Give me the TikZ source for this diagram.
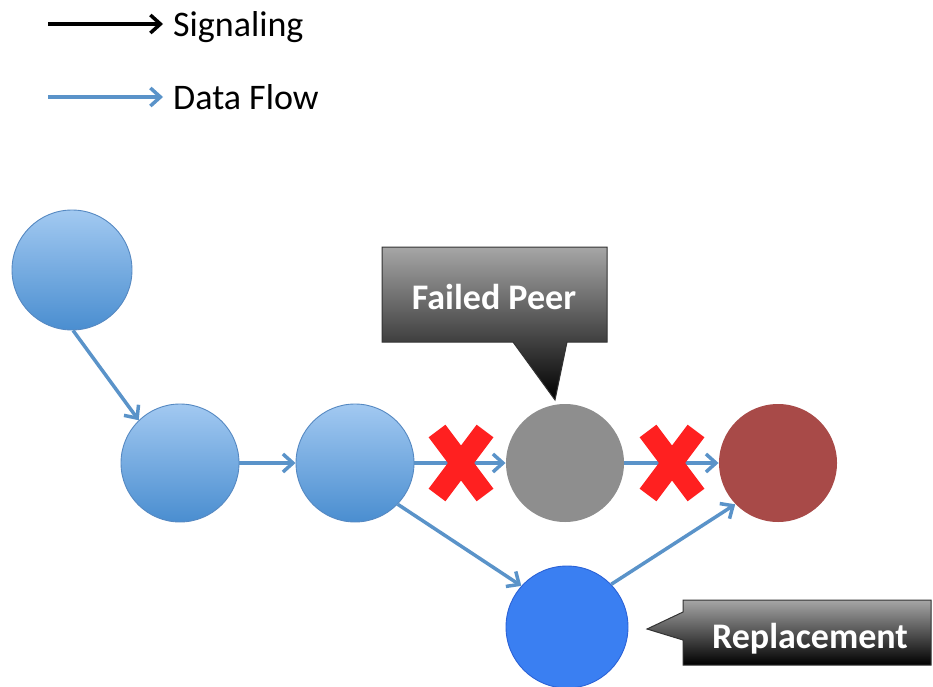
\documentclass[tikz,border=0pt]{standalone}
\usepackage{fontspec}
\setmainfont{Carlito}
\usetikzlibrary{arrows.meta}

\definecolor{flow}{HTML}{5A93C9}
\definecolor{peerTop}{HTML}{A2C9F1}
\definecolor{peerBot}{HTML}{4A8ED0}
\definecolor{peerEdge}{HTML}{5689C2}
\definecolor{failGray}{HTML}{8E8E8E}
\definecolor{sinkRed}{HTML}{A84A48}
\definecolor{newBlue}{HTML}{3A7FF2}
\definecolor{newEdge}{HTML}{2B62D6}
\definecolor{crossRed}{HTML}{FF2020}
\definecolor{calloutTop}{HTML}{A6A6A6}
\definecolor{calloutMid}{HTML}{555555}
\definecolor{calloutEdge}{HTML}{333333}

\tikzset{
  peer/.style={circle, inner sep=0pt, minimum size=118pt, line width=0.9pt},
  normalpeer/.style={peer, draw=peerEdge, top color=peerTop, bottom color=peerBot},
  flowline/.style={draw=flow, line width=3.5pt, -{Straight Barb[length=10pt,width=18pt]}},
  signalline/.style={draw=black, line width=3.5pt, -{Straight Barb[length=10pt,width=18pt]}},
  crossarm/.style={draw=crossRed, line width=21pt, line cap=butt},
  callout/.style={draw=calloutEdge, line width=1pt, line join=miter},
  callouttext/.style={text=white, font=\fontsize{36}{40}\selectfont\bfseries, inner sep=0pt},
  legendtext/.style={font=\fontsize{36}{40}\selectfont, inner sep=0pt, anchor=base west}
}

\begin{document}
\begin{tikzpicture}[x=1pt, y=-1pt]
\useasboundingbox (0,0) rectangle (933,687);

% legend
\coordinate (s1) at (48,24);
\coordinate (s2) at (163,24);
\coordinate (d1) at (48,97);
\coordinate (d2) at (163,97);
\draw[signalline] (s1) -- (s2);
\draw[flowline] (d1) -- (d2);
\node[legendtext] (sig) at (173,37) {Signaling};
\node[legendtext] (dat) at (173,110) {Data Flow};

% peers
\node[normalpeer, minimum size=120pt] (A) at (72,270) {};
\node[normalpeer] (B) at (180,463) {};
\node[normalpeer] (C) at (355,463) {};
\node[peer, fill=failGray] (D) at (565,463) {};
\node[peer, fill=sinkRed] (E) at (778,463) {};
\node[peer, draw=newEdge, fill=newBlue, minimum size=122pt] (F) at (567,627) {};

% data flow between peers
\draw[flowline] (A.-89) -- (B.134);
\draw[flowline] (B) -- (C);
\draw[flowline] (C) -- (D);
\draw[flowline] (D) -- (E);
\draw[flowline] (C.-44) -- (F.138);
\draw[flowline] (F.44) -- (E.-136);

% broken links
\foreach \cx in {461,672}{
  \draw[crossarm] (\cx-24,463-32) -- (\cx+24,463+32);
  \draw[crossarm] (\cx+24,463-32) -- (\cx-24,463+32);
}

% callout for the failed peer
\path[callout, top color=calloutTop, middle color=calloutMid, bottom color=black]
  (382,247) -- (607,247) -- (607,342) -- (567,342) -- (555,400) -- (513,342)
  -- (382,342) -- cycle;
\node[callouttext] (fp) at (494,297) {Failed Peer};

% callout for the replacement peer
\path[callout, top color=calloutTop, bottom color=black]
  (683,600) -- (931,600) -- (931,665) -- (683,665) -- (683,640) -- (647,629)
  -- (683,612) -- cycle;
\node[callouttext, anchor=base] (rp) at (810,648) {Replacement};
\end{tikzpicture}
\end{document}
